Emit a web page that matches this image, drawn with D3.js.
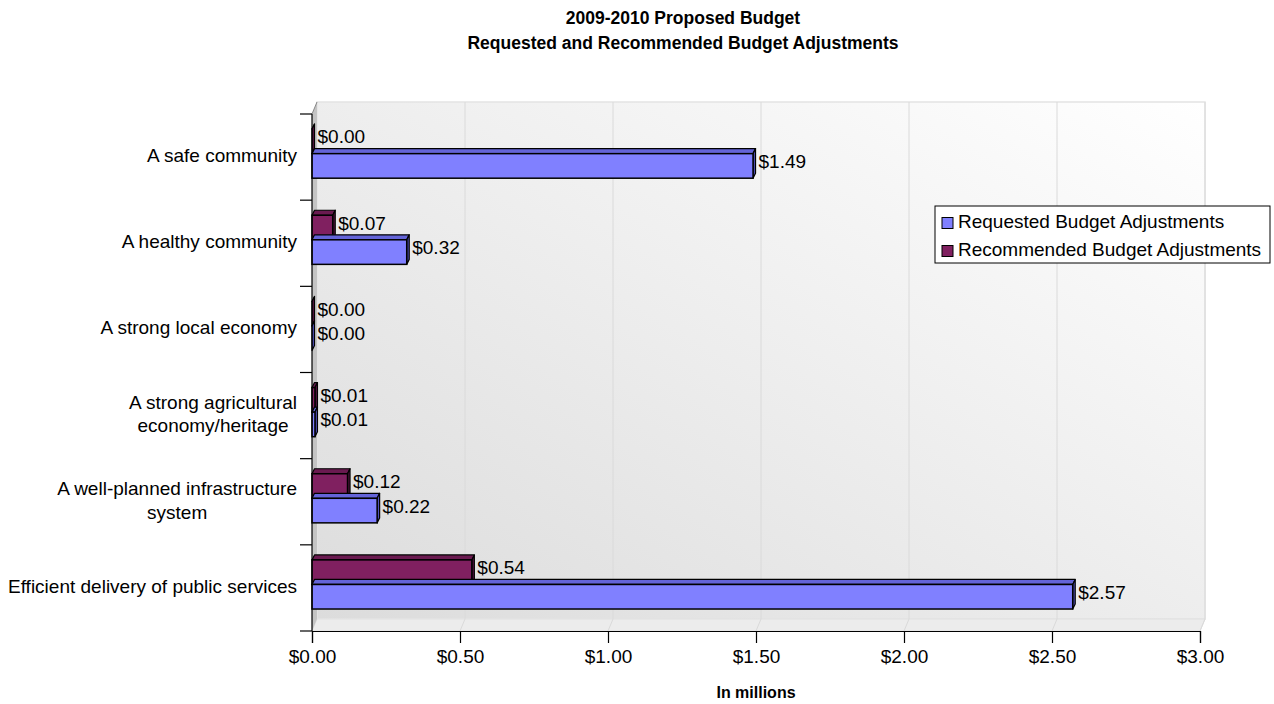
<!DOCTYPE html>
<html>
<head>
    <meta charset="UTF-8" />
    <title>2009-2010 Proposed Budget</title>
    <script src="https://d3js.org/d3.v7.min.js"></script>
    <style>
    body { margin: 0; background: #fff; }
    text { font-family: "Liberation Sans", Arial, sans-serif; fill: #000; }
    </style>
</head>
<body>
<div id="main"></div>
<script type="text/javascript">

// chart values
const categories = [
  "A safe community",
  "A healthy community",
  "A strong local economy",
  "A strong agricultural\neconomy/heritage",
  "A well-planned infrastructure\nsystem",
  "Efficient delivery of public services"
]
const seriesNames = ["Recommended Budget Adjustments", "Requested Budget Adjustments"]
const requested = [1.49, 0.32, 0.00, 0.01, 0.22, 2.57]
const recommended = [0.00, 0.07, 0.00, 0.01, 0.12, 0.54]
const xTicks = [0, 0.5, 1, 1.5, 2, 2.5, 3]
const legendOrder = ["Requested Budget Adjustments", "Recommended Budget Adjustments"]

const W = 1274, H = 704
const depth = { dx: 5, dy: -12 }   // wall depth
const barDepth = { dx: 2.5, dy: -5 }
const fs = "19px"

const colors = {
  "Requested Budget Adjustments": { front: "#8080ff", top: "#6464d8", side: "#5050b8" },
  "Recommended Budget Adjustments": { front: "#802060", top: "#6a1a50", side: "#561440" }
}

const svg = d3.select("#main").append("svg")
  .attr("width", W)
  .attr("height", H)

const x = d3.scaleLinear().domain([0, 3]).range([312, 1200])
const y = d3.scaleBand().domain(categories).range([114, 631]).padding(0)
const ySub = d3.scaleBand().domain(seriesNames)
  .range([y.bandwidth() * 0.175, y.bandwidth() * 0.745]).padding(0)

const rows = categories.map((c, i) => ({
  cat: c,
  values: [
    { name: seriesNames[0], v: recommended[i] },
    { name: seriesNames[1], v: requested[i] }
  ]
}))

// --- walls ---
const defs = svg.append("defs")
const grad = defs.append("linearGradient").attr("id", "wall")
  .attr("x1", "0%").attr("y1", "100%").attr("x2", "100%").attr("y2", "0%")
grad.append("stop").attr("offset", "0%").attr("stop-color", "#dcdcdc")
grad.append("stop").attr("offset", "100%").attr("stop-color", "#ffffff")

const x0 = x.range()[0], x1 = x.range()[1]
const yTop = y.range()[0], yBot = y.range()[1]

svg.append("rect")
  .attr("x", x0 + depth.dx).attr("y", yTop + depth.dy)
  .attr("width", x1 - x0).attr("height", yBot - yTop)
  .attr("fill", "url(#wall)")
  .attr("stroke", "#e4e4e4").attr("stroke-width", 1.5)

// floor
svg.append("polygon")
  .attr("points", [[x0, yBot], [x1, yBot], [x1 + depth.dx, yBot + depth.dy], [x0 + depth.dx, yBot + depth.dy]].join(" "))
  .attr("fill", "#ececec").attr("stroke", "#e0e0e0")

// left wall
svg.append("polygon")
  .attr("points", [[x0, yTop], [x0 + depth.dx, yTop + depth.dy], [x0 + depth.dx, yBot + depth.dy], [x0, yBot]].join(" "))
  .attr("fill", "#c4c4c4")

// gridlines on back wall and floor
svg.selectAll(".grid").data(xTicks.slice(1)).enter().append("path")
  .attr("class", "grid")
  .attr("d", d => `M${x(d)},${yBot}L${x(d) + depth.dx},${yBot + depth.dy}L${x(d) + depth.dx},${yTop + depth.dy}`)
  .attr("fill", "none").attr("stroke", "#dadada").attr("stroke-width", 1)

// --- bars ---
const groups = svg.selectAll(".cat").data(rows).enter().append("g")
  .attr("class", "cat")
  .attr("transform", d => `translate(0,${y(d.cat)})`)

const bars = groups.selectAll(".bar").data(d => d.values).enter().append("g")
  .attr("class", "bar")

bars.append("polygon") // top face
  .attr("points", d => {
    const y0 = ySub(d.name), xe = x(d.v)
    return [[x0, y0], [xe, y0], [xe + barDepth.dx, y0 + barDepth.dy], [x0 + barDepth.dx, y0 + barDepth.dy]].join(" ")
  })
  .attr("fill", d => colors[d.name].top)
  .attr("stroke", "#000").attr("stroke-width", 1.2).attr("stroke-linejoin", "round")

bars.append("polygon") // side face
  .attr("points", d => {
    const y0 = ySub(d.name), y1 = y0 + ySub.bandwidth(), xe = x(d.v)
    return [[xe, y0], [xe + barDepth.dx, y0 + barDepth.dy], [xe + barDepth.dx, y1 + barDepth.dy], [xe, y1]].join(" ")
  })
  .attr("fill", d => colors[d.name].side)
  .attr("stroke", "#000").attr("stroke-width", 1.2).attr("stroke-linejoin", "round")

bars.append("rect") // front face
  .attr("x", x0)
  .attr("y", d => ySub(d.name))
  .attr("width", d => x(d.v) - x0)
  .attr("height", ySub.bandwidth())
  .attr("fill", d => colors[d.name].front)
  .attr("stroke", "#000").attr("stroke-width", 1.5)

bars.append("text")
  .attr("x", d => x(d.v) + barDepth.dx + 3)
  .attr("y", d => ySub(d.name) + ySub.bandwidth() / 2 - 3)
  .attr("dominant-baseline", "middle")
  .style("font-size", fs)
  .text(d => "$" + d3.format(".2f")(d.v))

// --- axes ---
svg.append("line")
  .attr("x1", x0).attr("x2", x0).attr("y1", yTop).attr("y2", yBot)
  .attr("stroke", "#000").attr("stroke-width", 1.2)
svg.append("line")
  .attr("x1", x0).attr("x2", x0 + depth.dx).attr("y1", yTop).attr("y2", yTop + depth.dy)
  .attr("stroke", "#888").attr("stroke-width", 1)

const yBounds = categories.map(c => y(c)).concat([yBot])
svg.selectAll(".ytick").data(yBounds).enter().append("line")
  .attr("x1", x0 - 12).attr("x2", x0).attr("y1", d => d).attr("y2", d => d)
  .attr("stroke", "#000").attr("stroke-width", 1.2)

const xAxis = svg.append("g")
  .attr("transform", `translate(0,${yBot})`)
  .call(d3.axisBottom(x).tickValues(xTicks).tickSize(12).tickPadding(7)
    .tickFormat(d => "$" + d3.format(".2f")(d)))
xAxis.select(".domain").attr("stroke", "#000").attr("stroke-width", 1.2)
xAxis.selectAll(".tick line").attr("stroke", "#000").attr("stroke-width", 1.2)
xAxis.selectAll(".tick text")
  .style("font-size", fs)
  .style("font-family", '"Liberation Sans", Arial, sans-serif')
  .attr("fill", "#000")

// category labels: lines centred on each other, block right-aligned
const catLabels = svg.selectAll(".catlabel").data(categories).enter().append("text")
  .attr("class", "catlabel")
  .style("font-size", fs)
catLabels.each(function (d) {
  const lines = d.split("\n")
  const t = d3.select(this)
  const lineH = 23.5
  const cy = y(d) + y.bandwidth() / 2
  lines.forEach((ln, i) => {
    t.append("tspan")
      .attr("y", cy + (i - (lines.length - 1) / 2) * lineH)
      .attr("dominant-baseline", "middle")
      .text(ln)
  })
  let maxW = 0
  t.selectAll("tspan").each(function () { maxW = Math.max(maxW, this.getComputedTextLength()) })
  t.attr("text-anchor", "middle")
  t.selectAll("tspan").attr("x", 297 - maxW / 2)
})

// --- titles ---
svg.append("text")
  .attr("x", 683).attr("y", 19)
  .attr("text-anchor", "middle").attr("dominant-baseline", "middle")
  .style("font-size", "17.5px").style("font-weight", "bold")
  .text("2009-2010 Proposed Budget")
svg.append("text")
  .attr("x", 683).attr("y", 44)
  .attr("text-anchor", "middle").attr("dominant-baseline", "middle")
  .style("font-size", "17.5px").style("font-weight", "bold")
  .text("Requested and Recommended Budget Adjustments")
svg.append("text")
  .attr("x", 756).attr("y", 694)
  .attr("text-anchor", "middle").attr("dominant-baseline", "middle")
  .style("font-size", "16px").style("font-weight", "bold")
  .text("In millions")

// --- legend ---
const legend = svg.append("g").attr("transform", "translate(935,206)")
legend.append("rect")
  .attr("width", 335).attr("height", 57)
  .attr("fill", "#fff").attr("stroke", "#000").attr("stroke-width", 1)
const items = legend.selectAll(".item").data(legendOrder).enter().append("g")
  .attr("transform", (d, i) => `translate(7,${17 + i * 28})`)
items.append("rect")
  .attr("x", 0).attr("y", -5.5).attr("width", 11).attr("height", 11)
  .attr("fill", d => colors[d].front).attr("stroke", "#000").attr("stroke-width", 1)
items.append("text")
  .attr("x", 16).attr("y", 0)
  .attr("dominant-baseline", "middle")
  .style("font-size", fs)
  .text(d => d)

</script>
</body>
</html>
